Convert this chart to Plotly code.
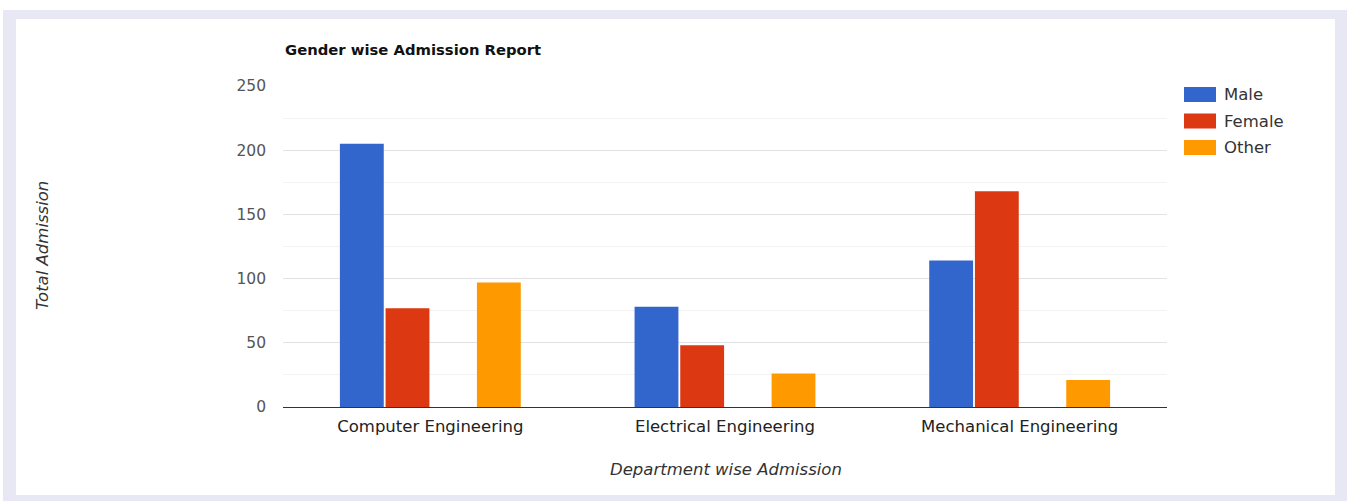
import plotly.graph_objects as go

# ---- data ----
departments = ["Computer Engineering", "Electrical Engineering", "Mechanical Engineering"]
male = [205, 78, 114]
female = [77, 48, 168]
spacer = [0, 0, 0]
other = [97, 26, 21]
series_names = ["Male", "Female", "Other"]
series_colors = ["#3366cc", "#dc3912", "#ff9900"]
y_ticks = [0, 50, 100, 150, 200, 250]

# ---- layout geometry (pixels) ----
W, H = 1351, 501
L, R, T, B = 283, 1167, 86, 407
PW, PH = R - L, B - T

def px(x):
    return (x - L) / PW

def py(y):
    return (B - y) / PH

FONT = "DejaVu Sans"

fig = go.Figure()
fig.add_trace(go.Bar(name="Male", x=departments, y=male, marker_color=series_colors[0], marker_line_width=0))
fig.add_trace(go.Bar(name="Female", x=departments, y=female, marker_color=series_colors[1], marker_line_width=0))
fig.add_trace(go.Bar(name="", x=departments, y=spacer, marker_color="rgba(0,0,0,0)", marker_line_width=0,
                     hoverinfo="skip", showlegend=False))
fig.add_trace(go.Bar(name="Other", x=departments, y=other, marker_color=series_colors[2], marker_line_width=0))

shapes = [
    # lavender frame
    dict(type="rect", xref="paper", yref="paper", x0=px(3), x1=px(1347), y0=py(505), y1=py(10),
         fillcolor="#e8e8f5", line_width=0, layer="below"),
    # white card
    dict(type="rect", xref="paper", yref="paper", x0=px(16), x1=px(1335), y0=py(495), y1=py(19),
         fillcolor="#ffffff", line_width=0, layer="below"),
]
annotations = []

# manual legend
leg_y = [94.5, 121, 147.5]
for name, color, yc in zip(series_names, series_colors, leg_y):
    shapes.append(dict(type="rect", xref="paper", yref="paper", x0=px(1184), x1=px(1216),
                       y0=py(yc + 7.5), y1=py(yc - 7.5), fillcolor=color, line_width=0))
    annotations.append(dict(text=name, xref="paper", yref="paper", x=px(1222), y=py(yc),
                            xanchor="left", yanchor="middle", showarrow=False,
                            font=dict(family=FONT, size=16.5, color="#333333")))

# axis titles
annotations.append(dict(text="<i>Total Admission</i>", xref="paper", yref="paper", x=px(42), y=py(246),
                        textangle=-90, showarrow=False, xanchor="center", yanchor="middle",
                        font=dict(family=FONT, size=16.5, color="#333333")))
annotations.append(dict(text="<i>Department wise Admission</i>", xref="paper", yref="paper", x=px(726), y=py(469),
                        showarrow=False, xanchor="center", yanchor="middle",
                        font=dict(family=FONT, size=16.5, color="#333333")))
# title
annotations.append(dict(text="<b>Gender wise Admission Report</b>", xref="paper", yref="paper", x=px(283), y=py(50),
                        showarrow=False, xanchor="left", yanchor="middle",
                        font=dict(family=FONT, size=14.8, color="#111111")))

fig.update_layout(
    width=W, height=H,
    margin=dict(l=L, r=W - R, t=T, b=H - B, pad=0),
    paper_bgcolor="#ffffff",
    plot_bgcolor="rgba(0,0,0,0)",
    barmode="group",
    bargap=0.38,
    bargroupgap=0.04,
    showlegend=False,
    shapes=shapes,
    annotations=annotations,
    font=dict(family=FONT, size=15, color="#444444"),
)
fig.update_xaxes(
    showgrid=False, showline=True, linecolor="#333333", linewidth=1,
    ticks="", ticklabelstandoff=4, tickfont=dict(family=FONT, size=16.5, color="#222222"),
)
fig.update_yaxes(
    range=[0, 250], tickvals=y_ticks, showgrid=True, gridcolor="#e2e2e2", gridwidth=1,
    zeroline=False, showline=False, ticks="", ticklabelstandoff=16,
    tickfont=dict(family=FONT, size=15.5, color="#555555"),
    minor=dict(dtick=25, showgrid=True, gridcolor="#f3f3f3", gridwidth=1),
)

fig.write_html("out.html", config={"displayModeBar": False},
               post_script="document.body.style.margin='0';document.body.style.overflow='hidden';")
